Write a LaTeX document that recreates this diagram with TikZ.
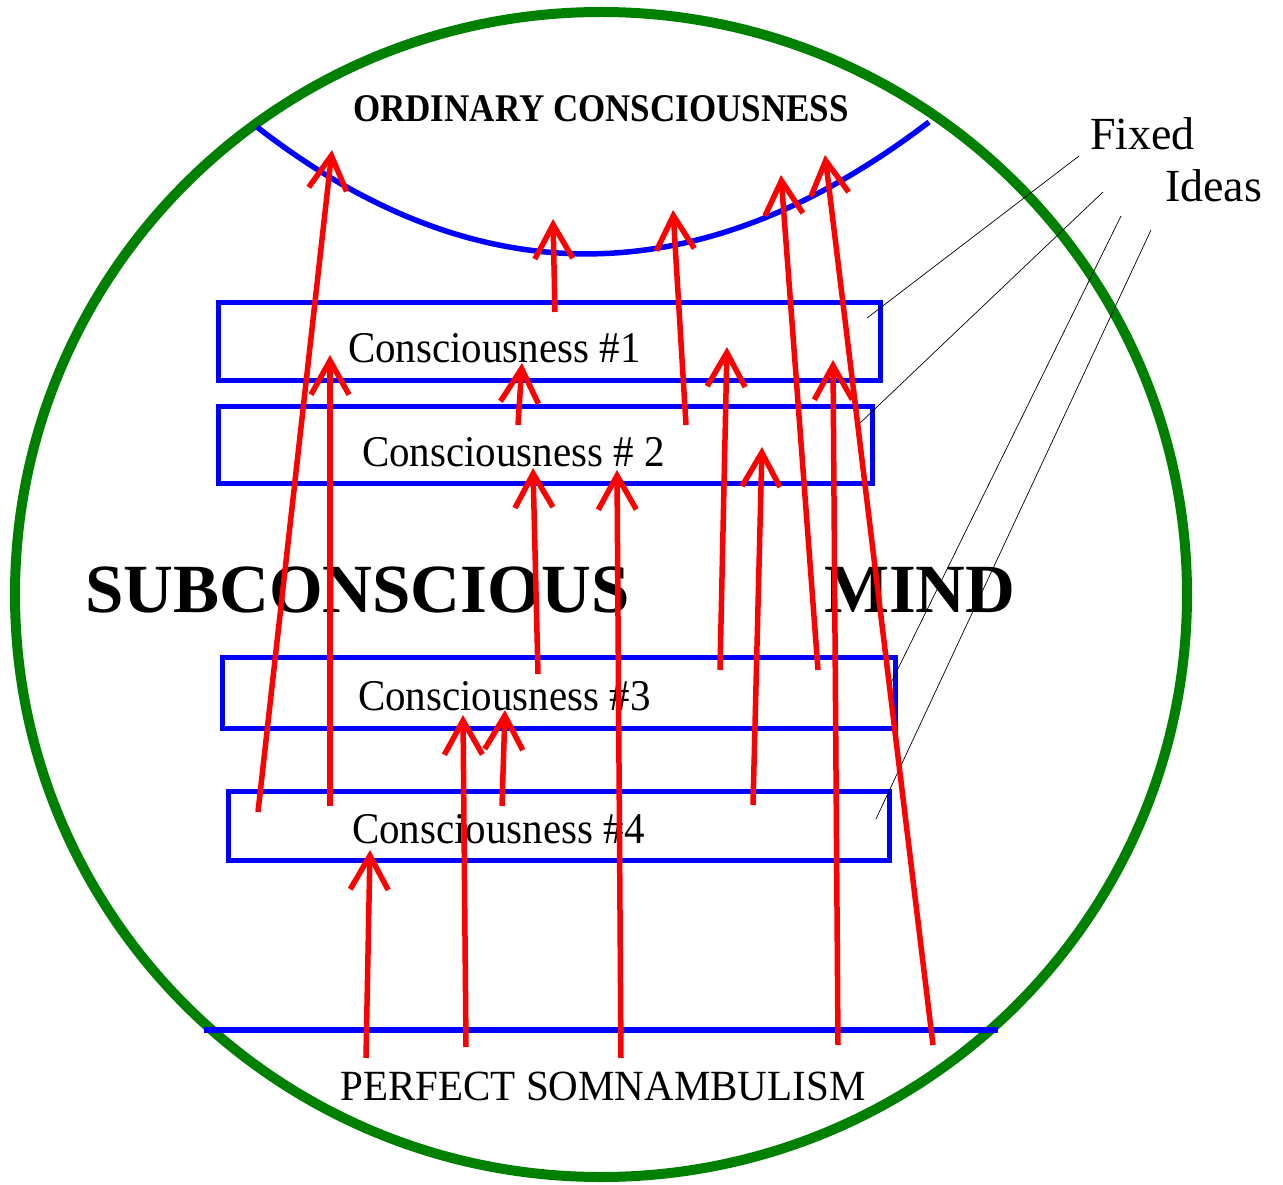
\documentclass[tikz,border=0pt]{standalone}
\usepackage{fontspec}
\setmainfont{Liberation Serif}
\usetikzlibrary{arrows.meta}
\definecolor{cgreen}{RGB}{0,128,0}
\definecolor{cblue}{RGB}{0,0,255}
\definecolor{cred}{RGB}{255,0,0}
\newcommand{\tallr}[2]{\scalebox{1}[#1]{#2}}
\tikzset{
  bluebox/.style={draw=cblue, line width=5pt},
  blueline/.style={draw=cblue, line width=5.5pt},
  leader/.style={draw=black, line width=0.7pt},
  redarr/.style={draw=cred, line width=5.5pt, -{Straight Barb[length=34pt,width=38pt,line width=5.5pt]}},
  lbl/.style={inner sep=0pt, outer sep=0pt, font=\fontsize{41}{45}\selectfont},
  biglbl/.style={inner sep=0pt, outer sep=0pt, font=\fontsize{69}{75}\selectfont\bfseries},
}
\begin{document}
\begin{tikzpicture}[x=1pt,y=-1pt]
\useasboundingbox (0,0) rectangle (1283,1185);
% outer circle
\draw[draw=cgreen, line width=10pt] (601,594.5) ellipse [x radius=586, y radius=582.5];
% ordinary consciousness arc
\draw[blueline] (257,127) .. controls (477,298) and (701,296) .. (929,122);
% perfect somnambulism line
\draw[blueline] (204,1030) -- (998,1030);
% boxes
\draw[bluebox] (218,302) rectangle (880,380);
\draw[bluebox] (218,406) rectangle (872,483);
\draw[bluebox] (222,657) rectangle (895,728);
\draw[bluebox] (228,791) rectangle (889,860);
% texts
\node[inner sep=0pt, anchor=base, font=\fontsize{35}{40}\selectfont\bfseries] (oc) at (601,122) {\tallr{1.12}{ORDINARY CONSCIOUSNESS}};
\node[lbl, anchor=base west] (c1) at (348,362) {\tallr{1.07}{Consciousness \#1}};
\node[lbl, anchor=base west] (c2) at (362,466) {\tallr{1.07}{Consciousness \# 2}};
\node[lbl, anchor=base west] (c3) at (358,710) {\tallr{1.07}{Consciousness \#3}};
\node[lbl, anchor=base west] (c4) at (352,843) {\tallr{1.07}{Consciousness \#4}};
\node[biglbl, anchor=base west] (sub) at (85,612) {SUBCONSCIOUS};
\node[biglbl, anchor=base west] (mind) at (824,612) {MIND};
\node[lbl, anchor=base] (ps) at (603,1100) {\tallr{1.05}{PERFECT SOMNAMBULISM}};
\node[inner sep=0pt, anchor=base west, font=\fontsize{46}{50}\selectfont] (fx) at (1090,150) {Fixed};
\node[inner sep=0pt, anchor=base west, font=\fontsize{46}{50}\selectfont] (id) at (1165,202) {Ideas};
% leader lines
\draw[leader] (1079,156) -- (867,318);
\draw[leader] (1103,192) -- (859,424);
\draw[leader] (1121,216) -- (888,689);
\draw[leader] (1151,230) -- (876,819);
% red arrows
\draw[redarr] (258,812) -- (332,150);
\draw[redarr] (330,806) -- (330,355);
\draw[redarr] (555,312) -- (553,219);
\draw[redarr] (518,425) -- (522,363);
\draw[redarr] (686,425) -- (673,210);
\draw[redarr] (538,674) -- (533,468);
\draw[redarr] (621,1058) -- (617,470);
\draw[redarr] (720,670) -- (727,347);
\draw[redarr] (753,805) -- (762,447);
\draw[redarr] (818,670) -- (781,175);
\draw[redarr] (838,1045) -- (833,360);
\draw[redarr] (933,1045) -- (825,155);
\draw[redarr] (466,1047) -- (463,715);
\draw[redarr] (502,806) -- (505,710);
\draw[redarr] (366,1058) -- (370,850);
\end{tikzpicture}
\end{document}
